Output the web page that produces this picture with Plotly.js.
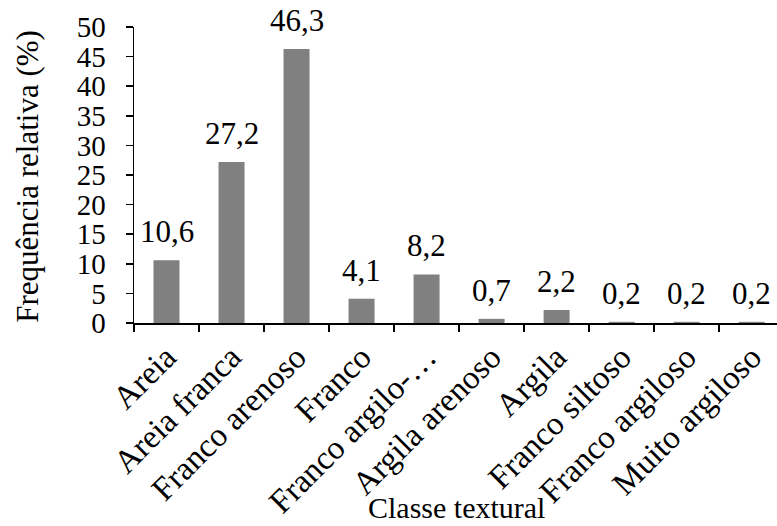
<!DOCTYPE html>
<html>
<head>
<meta charset="utf-8">
<script src="https://cdn.plot.ly/plotly-3.0.1.min.js"></script>
<style>html,body{margin:0;padding:0;background:#fff;}#chart{width:777px;height:526px;}</style>
</head>
<body>
<div id="chart"></div>
<script>
var categories = ["Areia", "Areia franca", "Franco arenoso", "Franco", "Franco argilo-…", "Argila arenoso", "Argila", "Franco siltoso", "Franco argiloso", "Muito argiloso"];
var values = [10.6, 27.2, 46.3, 4.1, 8.2, 0.7, 2.2, 0.2, 0.2, 0.2];
var yTicks = [0, 5, 10, 15, 20, 25, 30, 35, 40, 45, 50];
var xTitle = "Classe textural";
var yTitle = "Frequência relativa (%)";

var FONT = "Liberation Serif";

var annotations = values.map(function (v, i) {
  return {
    x: categories[i], y: v, xref: "x", yref: "y",
    text: v.toFixed(1).replace(".", ","),
    showarrow: false, yanchor: "bottom", yshift: 9,
    font: {family: FONT, size: 31, color: "#000"}
  };
});
annotations.push({
  x: 0.502, y: -0.622, xref: "paper", yref: "paper",
  text: xTitle, showarrow: false, xanchor: "center", yanchor: "middle",
  font: {family: FONT, size: 30, color: "#000"}
});
annotations.push({
  x: -0.166, y: 0.495, xref: "paper", yref: "paper",
  text: yTitle, showarrow: false, textangle: -90, xanchor: "center", yanchor: "middle",
  font: {family: FONT, size: 31, color: "#000"}
});

var trace = {
  type: "bar",
  x: categories,
  y: values,
  marker: {color: "#808080"},
  hoverinfo: "none"
};

var layout = {
  width: 777, height: 526,
  margin: {l: 134, r: 0, t: 27, b: 203},
  paper_bgcolor: "#fff", plot_bgcolor: "#fff",
  showlegend: false,
  bargap: 0.6,
  font: {family: FONT, color: "#000"},
  xaxis: {
    type: "category",
    range: [-0.5, 9.39],
    showline: true, linecolor: "#000", linewidth: 1.5,
    ticks: "outside", tickson: "boundaries", ticklen: 7, tickcolor: "#000", tickwidth: 1.5,
    tickangle: -45,
    tickfont: {family: FONT, size: 33, color: "#000"},
    showgrid: false, zeroline: false, automargin: false
  },
  yaxis: {
    range: [0, 50],
    tickvals: yTicks,
    ticktext: yTicks.map(String),
    showline: true, linecolor: "#000", linewidth: 1.5,
    ticks: "outside", ticklen: 7, tickcolor: "#000", tickwidth: 1.5,
    ticklabelstandoff: 14,
    tickfont: {family: FONT, size: 29, color: "#000"},
    showgrid: false, zeroline: false, automargin: false
  },
  annotations: annotations
};

Plotly.newPlot("chart", [trace], layout, {displayModeBar: false, staticPlot: true});
</script>
</body>
</html>
